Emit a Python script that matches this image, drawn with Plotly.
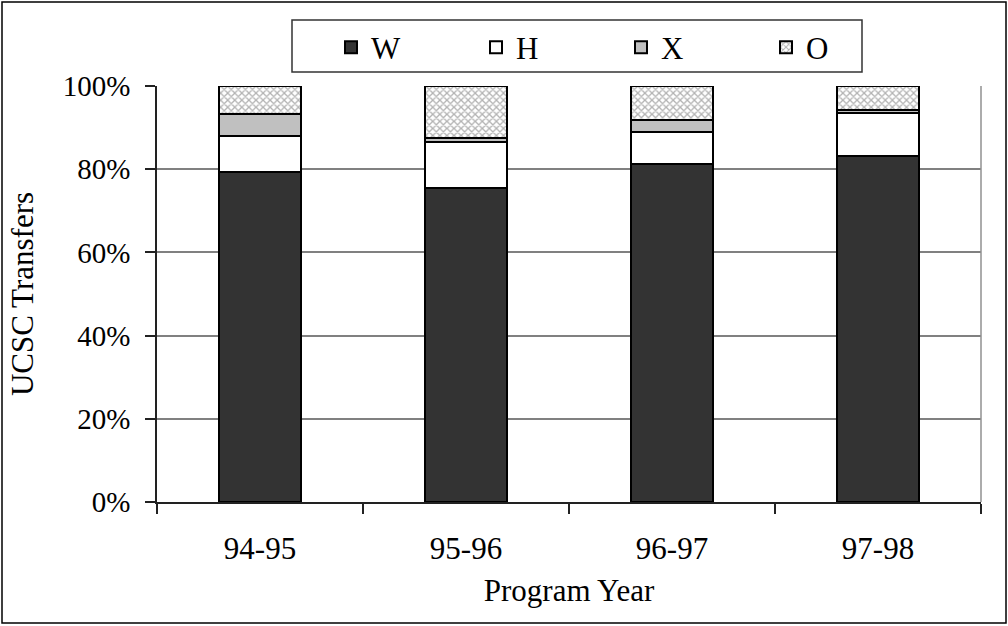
import plotly.graph_objects as go

years = ["94-95", "95-96", "96-97", "97-98"]
w_vals = [79.3, 75.4, 81.3, 83.2]
h_vals = [8.7, 11.2, 7.7, 10.2]
x_vals = [5.3, 1.0, 2.8, 0.8]
o_vals = [6.7, 12.4, 8.2, 5.8]
y_ticks = [0, 20, 40, 60, 80, 100]
y_labels = ["0%", "20%", "40%", "60%", "80%", "100%"]

FONT = "Liberation Serif"
line = dict(color="black", width=2)

fig = go.Figure()
fig.add_bar(x=years, y=w_vals, name="W", marker=dict(color="#333333", line=line))
fig.add_bar(x=years, y=h_vals, name="H", marker=dict(color="white", line=line))
fig.add_bar(x=years, y=x_vals, name="X", marker=dict(color="#c0c0c0", line=line))
fig.add_bar(x=years, y=o_vals, name="O",
            marker=dict(color="white", line=line,
                        pattern=dict(shape="x", fgcolor="#666666", bgcolor="white",
                                     size=5, solidity=0.45)))

L, R, T, B = 157, 27, 86, 124
W, H = 1008, 626
pw, ph = W - L - R, H - T - B


def px(x):
    return (x - L) / pw


def py(y):
    return (H - B - y) / ph


fig.update_layout(
    width=W, height=H,
    barmode="stack", bargap=0.6,
    plot_bgcolor="white", paper_bgcolor="white",
    margin=dict(l=L, r=R, t=T, b=B),
    font=dict(family=FONT, size=31, color="black"),
    showlegend=True,
    legend=dict(orientation="h", x=px(331), xanchor="left",
                y=py(47.5), yanchor="middle",
                borderwidth=0, bgcolor="rgba(0,0,0,0)",
                entrywidth=100, entrywidthmode="pixels",
                font=dict(family=FONT, size=31), traceorder="normal"),
    xaxis=dict(showline=True, linecolor="#222222", linewidth=1.5,
               ticks="outside", ticklen=10, tickcolor="#222222", tickwidth=1.5,
               tickson="boundaries", showgrid=False,
               ticklabelstandoff=18, tickfont=dict(size=31),
               title=dict(text="Program Year", font=dict(size=31), standoff=14)),
    yaxis=dict(range=[0, 100], tickvals=y_ticks, ticktext=y_labels,
               showline=True, linecolor="#222222", linewidth=1.5,
               ticks="outside", ticklen=10, tickcolor="#222222", tickwidth=1.5,
               showgrid=True, gridcolor="#808080", gridwidth=1.5,
               ticklabelstandoff=9, tickfont=dict(size=29),
               title=dict(text="UCSC Transfers", font=dict(size=31), standoff=20)),
    shapes=[
        dict(type="line", xref="paper", yref="paper", x0=1, x1=1, y0=0, y1=1,
             line=dict(color="#909090", width=1.5)),
        dict(type="rect", xref="paper", yref="paper",
             x0=px(2), x1=px(1006), y0=py(623), y1=py(2),
             line=dict(color="black", width=1.5), layer="below"),
        dict(type="rect", xref="paper", yref="paper",
             x0=px(292), x1=px(862), y0=py(72), y1=py(20),
             line=dict(color="#333333", width=1.5), fillcolor="white", layer="below"),
    ],
)

fig.write_html("out.html", config={"displayModeBar": False},
               post_script="document.body.style.margin='0';document.body.style.padding='0';")
